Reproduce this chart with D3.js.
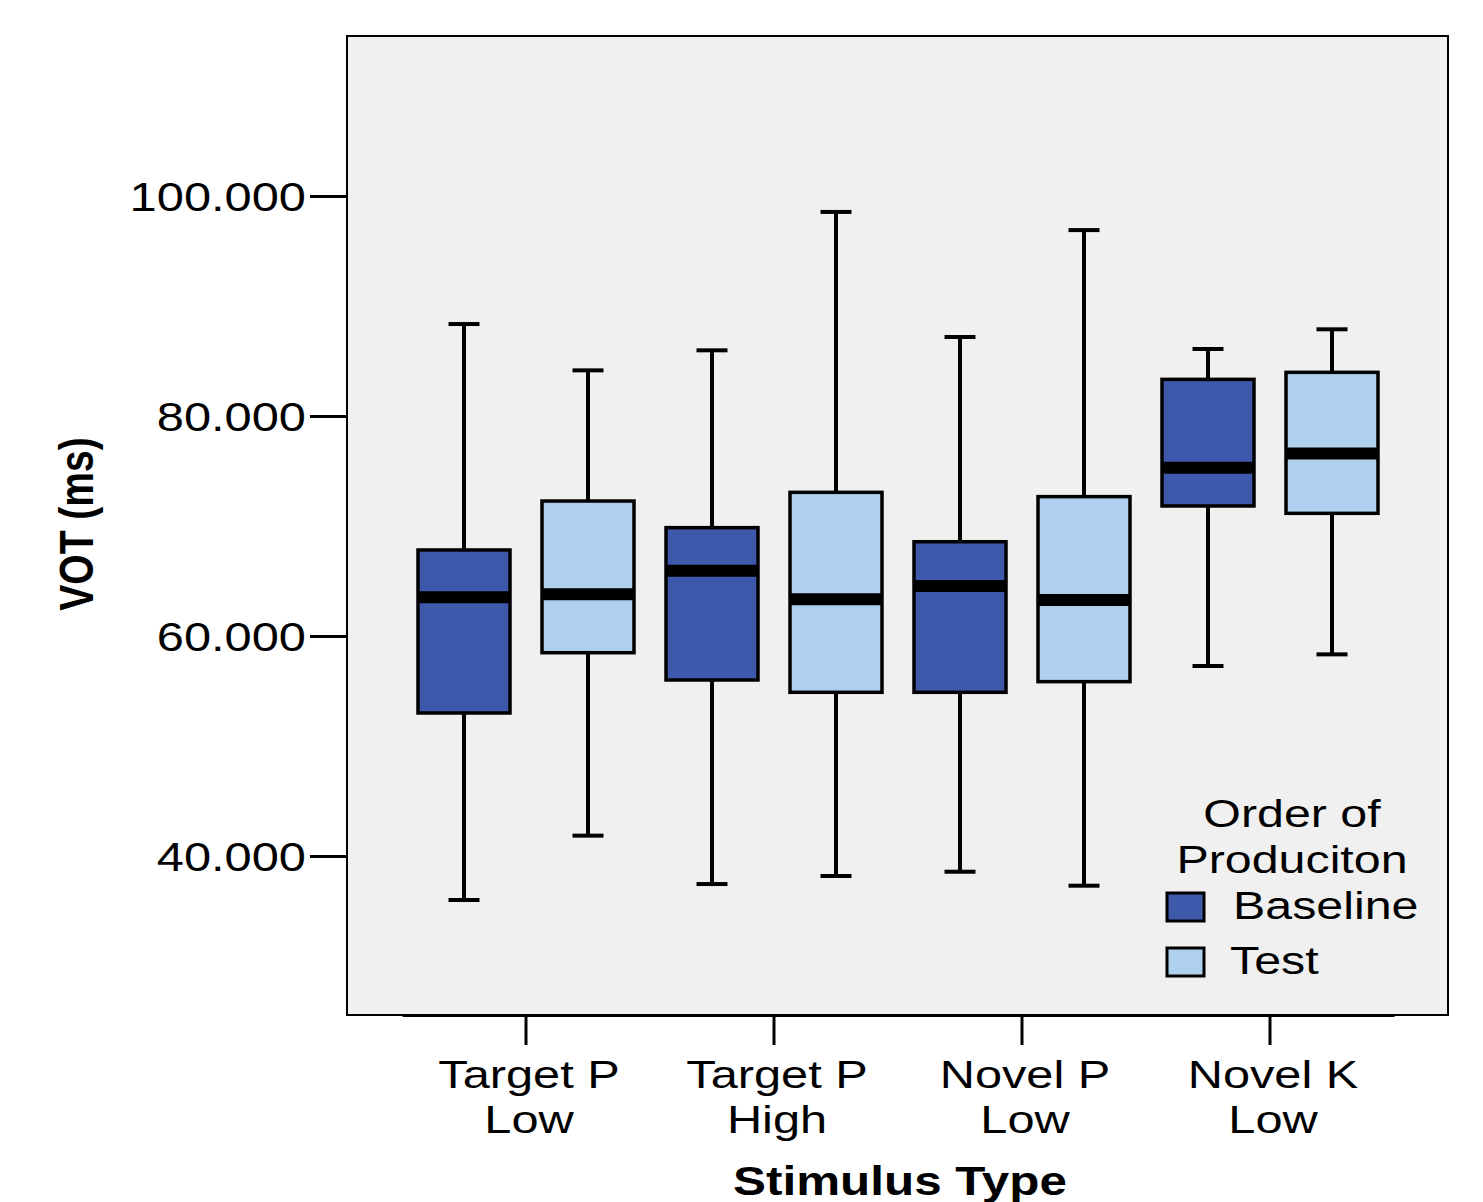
<!DOCTYPE html>
<html><head><meta charset="utf-8">
<script src="https://cdn.jsdelivr.net/npm/d3@7"></script>
<style>
html,body{margin:0;padding:0;background:#fff;}
text{font-family:"Liberation Sans",Arial,sans-serif;fill:#000;}
</style></head>
<body><svg id="chart" width="1483" height="1202"></svg>
<script>
// ---- data ----
const categories = [["Target P","Low"],["Target P","High"],["Novel P","Low"],["Novel K","Low"]];
const groups = ["Baseline","Test"];
const whiskerLow  = { Baseline:[36.0, 37.45, 38.57, 57.27], Test:[41.85, 38.18, 37.3, 58.33] };
const q1          = { Baseline:[53.0, 56.0, 54.88, 71.82],  Test:[58.48, 54.88, 55.85, 71.15] };
const medians     = { Baseline:[63.52, 65.94, 64.55, 75.3], Test:[63.79, 63.33, 63.27, 76.6] };
const q3          = { Baseline:[67.82, 69.85, 68.57, 83.33],Test:[72.27, 73.06, 72.67, 83.97] };
const whiskerHigh = { Baseline:[88.36, 85.97, 87.18, 86.09],Test:[84.15, 98.55, 96.9, 87.88] };
const yTicks = [40, 60, 80, 100];
const yDomain = [25.545, 114.545];
const colors = { Baseline:"#3E58AC", Test:"#AED0EE" };
const legendTitle = ["Order of","Produciton"];
const xTitle = "Stimulus Type";
const yTitle = "VOT (ms)";

// ---- layout ----
const SX = 1.22;  // horizontal text stretch (tick labels)
const SX2 = 1.25; // category / legend labels
const frame = {left:347, top:36, right:1448, bottom:1015};
const svg = d3.select("#chart");

const y = d3.scaleLinear().domain(yDomain).range([frame.bottom, frame.top]);
const catKeys = categories.map(c => c.join(" "));
const x = d3.scaleBand().domain(catKeys).range([402, 1394]).paddingInner(0).paddingOuter(0);
const xs = d3.scalePoint().domain(groups).range([0, x.bandwidth()]).padding(0.5);
const boxW = 92, capW = 31;

// plot background + frame
svg.append("rect").attr("x",frame.left).attr("y",frame.top)
  .attr("width",frame.right-frame.left).attr("height",frame.bottom-frame.top)
  .attr("fill","#F0F0F0").attr("stroke","#000").attr("stroke-width",2);

// boxes
const rows = [];
groups.forEach(g => categories.forEach((c,i) => rows.push({
  g, cat:catKeys[i], lo:whiskerLow[g][i], q1:q1[g][i], med:medians[g][i], q3:q3[g][i], hi:whiskerHigh[g][i]
})));

const bx = svg.append("g");
rows.forEach(r => {
  const cx = x(r.cat) + xs(r.g);
  const gg = bx.append("g");
  gg.append("line").attr("x1",cx).attr("x2",cx).attr("y1",y(r.q3)).attr("y2",y(r.hi))
    .attr("stroke","#000").attr("stroke-width",4);
  gg.append("line").attr("x1",cx).attr("x2",cx).attr("y1",y(r.q1)).attr("y2",y(r.lo))
    .attr("stroke","#000").attr("stroke-width",4);
  gg.append("line").attr("x1",cx-capW/2).attr("x2",cx+capW/2).attr("y1",y(r.hi)).attr("y2",y(r.hi))
    .attr("stroke","#000").attr("stroke-width",4);
  gg.append("line").attr("x1",cx-capW/2).attr("x2",cx+capW/2).attr("y1",y(r.lo)).attr("y2",y(r.lo))
    .attr("stroke","#000").attr("stroke-width",4);
  gg.append("rect").attr("x",cx-boxW/2).attr("width",boxW)
    .attr("y",y(r.q3)).attr("height",y(r.q1)-y(r.q3))
    .attr("fill",colors[r.g]).attr("stroke","#000").attr("stroke-width",3.5);
  gg.append("line").attr("x1",cx-boxW/2).attr("x2",cx+boxW/2).attr("y1",y(r.med)).attr("y2",y(r.med))
    .attr("stroke","#000").attr("stroke-width",12);
});

// y axis
const yAxis = svg.append("g").attr("transform",`translate(${frame.left},0)`)
  .call(d3.axisLeft(y).tickValues(yTicks).tickFormat(d3.format(".3f")).tickSize(37).tickSizeOuter(0));
yAxis.select(".domain").remove();
yAxis.selectAll(".tick line").attr("stroke","#000").attr("stroke-width",3);
yAxis.selectAll(".tick text")
  .attr("x",null).attr("dy","0.36em")
  .attr("transform",`translate(-41,0) scale(${SX},1)`)
  .attr("text-anchor","end").style("font-size","40px").style("font-family",'"Liberation Sans",Arial,sans-serif')
  .attr("fill","#000");

// x axis
const xAxis = svg.append("g").attr("transform",`translate(0,${frame.bottom})`)
  .call(d3.axisBottom(x).tickSize(30).tickSizeOuter(0).tickFormat(""));
xAxis.select(".domain").attr("stroke","#000").attr("stroke-width",3);
xAxis.selectAll(".tick line").attr("stroke","#000").attr("stroke-width",3);
xAxis.selectAll(".tick text").remove();
categories.forEach((c,i) => {
  const cx = x(catKeys[i]) + x.bandwidth()/2 + 3;
  c.forEach((line,j) => {
    svg.append("text").attr("text-anchor","middle")
      .attr("transform",`translate(${cx},${1088 + j*45}) scale(${SX2},1)`)
      .style("font-size","39px").text(line);
  });
});

// axis titles
svg.append("text").attr("text-anchor","middle")
  .attr("transform",`translate(900,1195) scale(1.235,1)`)
  .style("font-size","40px").style("font-weight","bold").text(xTitle);
svg.append("text").attr("text-anchor","middle")
  .attr("transform",`translate(93,524) rotate(-90) scale(1,${SX})`)
  .style("font-size","39px").style("font-weight","bold").text(yTitle);

// legend
const lg = svg.append("g");
legendTitle.forEach((t,j) => {
  lg.append("text").attr("text-anchor","middle")
    .attr("transform",`translate(1292,${827 + j*46}) scale(1.24,1)`)
    .style("font-size","39px").text(t);
});
groups.forEach((g,j) => {
  const yy = 893 + j*55;
  lg.append("rect").attr("x",1167).attr("y",yy).attr("width",37).attr("height",28)
    .attr("fill",colors[g]).attr("stroke","#000").attr("stroke-width",3);
  lg.append("text").attr("transform",`translate(${j===0?1233:1230},${yy+26}) scale(1.24,1)`)
    .style("font-size","39px").text(g);
});
</script></body></html>
